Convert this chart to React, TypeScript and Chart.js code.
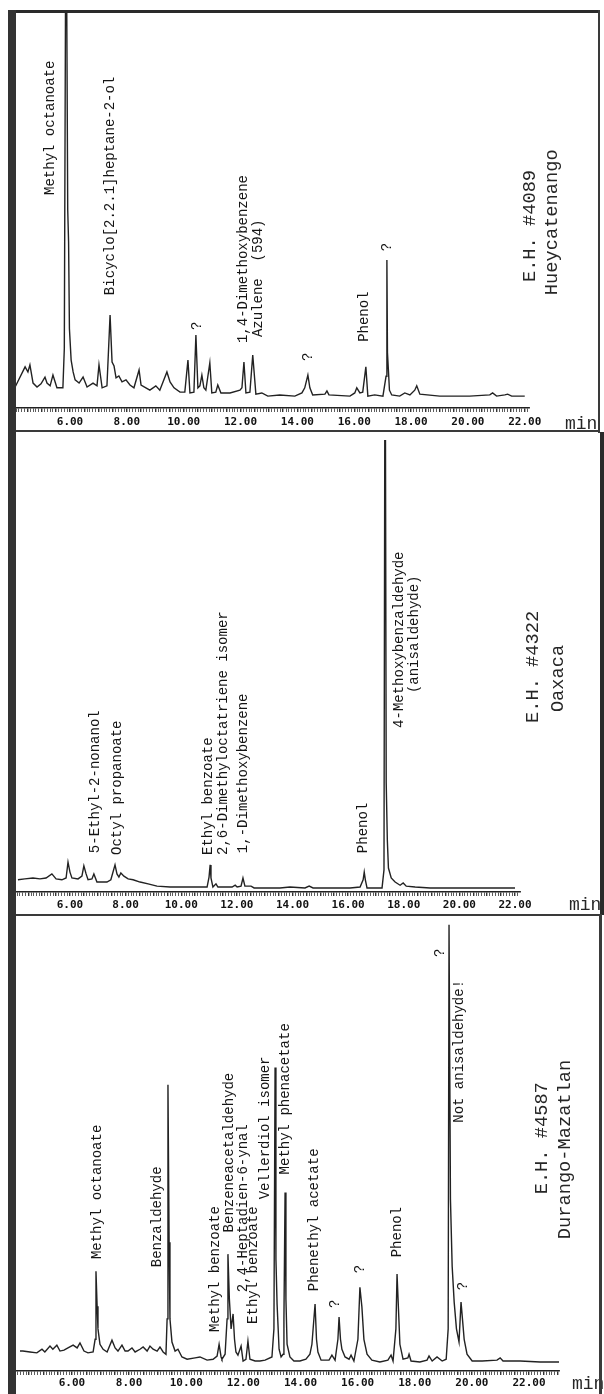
import React, { useEffect, useRef } from 'react';
import { Chart, registerables } from 'chart.js';

Chart.register(...registerables);

// ---------- Panel 1 : E.H. #4089 Hueycatenango ----------
const p1Time = [
  4.07, 4.42, 4.52, 4.59, 4.70, 4.84, 4.98, 5.12, 5.19, 5.30, 5.40, 5.54, 5.75, 5.80, 5.86, 5.92, 5.95, 5.98,
  6.04, 6.11, 6.18, 6.32, 6.46, 6.60, 6.81, 6.95, 7.02, 7.13, 7.30, 7.41, 7.48, 7.55, 7.62, 7.72, 7.83, 7.97,
  8.11, 8.25, 8.43, 8.50, 8.67, 8.81, 9.02, 9.16, 9.41, 9.52, 9.66, 9.87, 10.04, 10.15, 10.22, 10.36, 10.43,
  10.50, 10.57, 10.64, 10.71, 10.78, 10.92, 10.99, 11.13, 11.20, 11.31, 11.63, 11.98, 12.05, 12.12, 12.19,
  12.33, 12.43, 12.54, 12.75, 12.96, 13.38, 13.91, 14.16, 14.26, 14.37, 14.44, 14.54, 14.97, 15.04, 15.11,
  15.85, 16.02, 16.09, 16.20, 16.30, 16.41, 16.48, 16.72, 17.01, 17.12, 17.15, 17.17, 17.20, 17.24, 17.32,
  17.60, 17.78, 17.96, 18.13, 18.20, 18.31, 19.01, 20.06, 20.77, 20.87, 21.01, 21.30, 21.40, 21.54, 22.00,
];
const p1Signal = [
  5.3, 10.4, 9.1, 10.9, 6.3, 5.3, 6.1, 7.8, 6.3, 5.6, 8.3, 5.1, 5.1, 15, 140, 50, 42, 20,
  12.1, 9.1, 7.1, 6.3, 7.8, 5.3, 6.3, 5.6, 10.9, 5.1, 5.6, 23.5, 11.6, 10.6, 7.6, 8.1, 6.6, 7.1,
  5.8, 5.1, 9.6, 5.8, 5.1, 4.5, 5.6, 4.5, 9.1, 6.6, 5.1, 4.0, 4.0, 12.1, 3.8, 4.0, 18.4,
  5.1, 5.6, 8.3, 5.1, 4.5, 11.4, 3.8, 4.0, 5.8, 3.8, 3.8, 4.5, 5.1, 11.6, 3.8,
  4.0, 13.4, 3.5, 3.8, 3.0, 3.3, 3.0, 3.8, 5.1, 8.3, 5.1, 3.3, 3.5, 4.3, 3.3,
  3.0, 3.8, 5.1, 3.8, 4.0, 10.4, 3.0, 3.3, 3.0, 8, 37.4, 14, 10, 4.5, 3.3,
  3.0, 3.8, 3.3, 4.5, 5.6, 3.5, 3.0, 3.0, 3.3, 3.8, 3.0, 3.3, 3.5, 3.0, 3.0,
];
const p1Labels = [
  { text: 'Methyl octanoate', t: 5.30, v: 53.8 },
  { text: 'Bicyclo[2.2.1]heptane-2-ol', t: 7.41, v: 28.5 },
  { text: '?', t: 10.47, v: 19.7 },
  { text: '1,4-Dimethoxybenzene', t: 12.08, v: 16.4 },
  { text: 'Azulene  (594)', t: 12.61, v: 17.9 },
  { text: '?', t: 14.37, v: 11.9 },
  { text: 'Phenol', t: 16.37, v: 16.7 },
  { text: '?', t: 17.15, v: 39.6 },
];
const p1Titles = [
  { text: 'E.H. #4089', t: 22.17, v: 31.8 },
  { text: 'Hueycatenango', t: 22.95, v: 28.5 },
];

// ---------- Panel 2 : E.H. #4322 Oaxaca ----------
const p2Time = [
  4.13, 4.38, 4.67, 4.92, 5.14, 5.35, 5.50, 5.71, 5.86, 5.93, 6.00, 6.07, 6.29, 6.43, 6.50, 6.58, 6.65,
  6.79, 6.86, 6.97, 7.33, 7.47, 7.62, 7.69, 7.76, 7.83, 7.94, 8.09, 8.27, 8.52, 8.81, 9.13, 9.60, 10.32,
  10.93, 11.00, 11.04, 11.07, 11.14, 11.25, 11.32, 11.83, 11.94, 12.01, 12.15, 12.22, 12.29, 12.51, 12.62,
  13.55, 13.91, 14.45, 14.60, 14.74, 16.07, 16.43, 16.54, 16.58, 16.62, 16.68, 17.22, 17.29, 17.33, 17.37,
  17.41, 17.45, 17.55, 17.69, 17.87, 17.98, 18.09, 18.41, 18.95, 20.39, 21.11, 22.00,
];
const p2Signal = [
  2.7, 2.9, 3.1, 2.9, 3.1, 4.0, 2.9, 2.7, 3.1, 6.6, 4.4, 3.1, 2.9, 3.5, 5.8, 4.0, 2.7,
  2.9, 4.0, 2.2, 2.2, 2.7, 6.0, 4.0, 3.3, 4.2, 3.5, 2.9, 2.7, 2.2, 1.8, 1.3, 1.1, 1.1,
  1.1, 3.3, 6.0, 3.1, 1.1, 1.8, 1.1, 1.1, 1.5, 1.1, 1.3, 3.1, 1.3, 1.3, 0.9,
  0.9, 1.1, 0.9, 1.3, 0.9, 0.9, 1.1, 2.7, 4.4, 2.7, 0.9, 0.9, 4.9, 140, 24.1,
  11.5, 5.3, 3.1, 2.2, 1.5, 2.0, 1.3, 1.1, 0.9, 0.9, 0.9, 0.9,
];
const p2Labels = [
  { text: '5-Ethyl-2-nonanol', t: 6.90, v: 8.6 },
  { text: 'Octyl propanoate', t: 7.69, v: 8.2 },
  { text: 'Ethyl benzoate', t: 10.96, v: 8.2 },
  { text: '2,6-Dimethyloctatriene isomer', t: 11.50, v: 8.2 },
  { text: '1,-Dimethoxybenzene', t: 12.22, v: 8.6 },
  { text: 'Phenol', t: 16.54, v: 8.6 },
  { text: '4-Methoxybenzaldehyde', t: 17.83, v: 36.3 },
  { text: '(anisaldehyde)', t: 18.37, v: 44.0 },
];
const p2Titles = [
  { text: 'E.H. #4322', t: 22.65, v: 37.4 },
  { text: 'Oaxaca', t: 23.55, v: 39.8 },
];

// ---------- Panel 3 : E.H. #4587 Durango-Mazatlan ----------
const p3Time = [
  4.18, 4.28, 4.53, 4.77, 4.95, 5.05, 5.23, 5.33, 5.47, 5.58, 5.72, 5.86, 6.04, 6.18, 6.28, 6.42, 6.56,
  6.74, 6.81, 6.84, 6.88, 6.91, 6.98, 7.09, 7.23, 7.40, 7.51, 7.61, 7.75, 7.86, 7.96, 8.10, 8.21, 8.38,
  8.49, 8.63, 8.73, 8.84, 8.98, 9.08, 9.19, 9.29, 9.33, 9.36, 9.40, 9.43, 9.50, 9.61, 9.71, 9.85, 10.03,
  10.31, 10.48, 10.73, 10.94, 11.08, 11.15, 11.22, 11.25, 11.36, 11.43, 11.46, 11.51, 11.57, 11.64, 11.69,
  11.74, 11.81, 11.92, 11.99, 12.09, 12.16, 12.23, 12.41, 12.58, 12.76, 13.00, 13.07, 13.11, 13.14, 13.18,
  13.25, 13.32, 13.39, 13.42, 13.46, 13.49, 13.53, 13.63, 13.77, 13.98, 14.19, 14.33, 14.40, 14.51, 14.56,
  14.61, 14.72, 15.00, 15.10, 15.21, 15.31, 15.35, 15.40, 15.45, 15.56, 15.70, 15.77, 15.87, 16.01, 16.08,
  16.15, 16.22, 16.33, 16.50, 16.78, 17.06, 17.17, 17.24, 17.34, 17.38, 17.43, 17.48, 17.59, 17.76, 17.80,
  17.87, 18.18, 18.43, 18.50, 18.61, 18.78, 18.96, 19.10, 19.17, 19.20, 19.25, 19.31, 19.38, 19.46, 19.55,
  19.59, 19.62, 19.67, 19.73, 19.83, 20.01, 20.36, 20.88, 20.99, 21.09, 21.69, 22.39, 23.05,
];
const p3Signal = [
  4.4, 4.4, 4.2, 4.0, 4.8, 4.2, 5.5, 4.8, 5.7, 4.4, 4.6, 5.1, 5.7, 5.1, 6.2, 4.4, 4.0,
  4.2, 7.0, 22.0, 14.3, 9.3, 5.9, 4.8, 4.2, 6.8, 5.1, 4.4, 5.7, 4.4, 4.4, 5.1, 4.2, 4.8,
  5.3, 4.4, 5.5, 4.8, 4.4, 5.3, 4.2, 3.7, 11.5, 63.2, 28.4, 11.5, 6.4, 4.4, 4.8, 3.1, 2.6,
  2.9, 3.1, 2.4, 2.6, 3.3, 5.9, 3.1, 2.6, 3.7, 11.5, 25.8, 15.9, 9.3, 12.6, 7.0,
  4.2, 3.5, 5.5, 2.2, 2.6, 6.6, 2.6, 2.2, 2.2, 2.4, 3.1, 9.3, 67.0, 24.7, 14.8,
  4.8, 3.1, 3.7, 11.5, 39.4, 15.9, 5.9, 3.1, 2.2, 2.2, 2.6, 3.7, 5.9, 14.8, 7.0,
  4.2, 2.4, 2.4, 3.5, 2.4, 7.0, 11.9, 7.0, 4.8, 3.1, 2.6, 3.5, 2.2, 7.0, 18.5,
  14.1, 7.0, 3.7, 2.4, 2.0, 2.4, 3.5, 2.2, 9.3, 21.4, 13.7, 5.9, 2.6, 2.9, 3.7,
  2.2, 2.0, 2.4, 3.3, 2.2, 3.1, 2.2, 2.6, 9.3, 98.5, 37.9, 23.1, 15.2, 9.3, 6.4,
  11.5, 15.2, 11.5, 7.0, 3.7, 2.2, 2.2, 2.4, 2.9, 2.2, 2.2, 2.0, 2.0,
];
const p3Labels = [
  { text: 'Methyl octanoate', t: 6.88, v: 24.7 },
  { text: 'Benzaldehyde', t: 8.98, v: 22.9 },
  { text: 'Methyl benzoate', t: 11.01, v: 8.6 },
  { text: 'Benzeneacetaldehyde', t: 11.50, v: 30.6 },
  { text: '2,4-Heptadien-6-ynal', t: 11.99, v: 17.4 },
  { text: 'Ethyl benzoate', t: 12.34, v: 10.4 },
  { text: 'Vellerdiol isomer', t: 12.76, v: 37.9 },
  { text: 'Methyl phenacetate', t: 13.46, v: 43.4 },
  { text: 'Phenethyl acetate', t: 14.47, v: 17.6 },
  { text: '?', t: 15.21, v: 13.9 },
  { text: '?', t: 16.08, v: 21.6 },
  { text: 'Phenol', t: 17.38, v: 25.1 },
  { text: '?', t: 18.89, v: 91.4 },
  { text: 'Not anisaldehyde!', t: 19.55, v: 54.8 },
  { text: '?', t: 19.69, v: 17.8 },
];
const p3Titles = [
  { text: 'E.H. #4587', t: 22.46, v: 39.0 },
  { text: 'Durango-Mazatlan', t: 23.26, v: 29.1 },
];

const tickLabelValues = [6, 8, 10, 12, 14, 16, 18, 20, 22];

const INK = '#222222';

const panels = [
  {
    key: 'p1', top: 0, height: 435, padTop: 12, padRight: 75, axisH: 27, tickPad: 4,
    xMin: 4.1, xMax: 22.15, time: p1Time, signal: p1Signal, labels: p1Labels, titles: p1Titles,
    minDx: 36, minDy: 16,
  },
  {
    key: 'p2', top: 435, height: 480, padTop: 5, padRight: 84, axisH: 23, tickPad: 3,
    xMin: 4.06, xMax: 22.18, time: p2Time, signal: p2Signal, labels: p2Labels, titles: p2Titles,
    minDx: 49, minDy: 13,
  },
  {
    key: 'p3', top: 915, height: 479, padTop: 3, padRight: 45, axisH: 23, tickPad: 2,
    xMin: 4.04, xMax: 23.05, time: p3Time, signal: p3Signal, labels: p3Labels, titles: p3Titles,
    minDx: 13, minDy: 13,
  },
];

type PanelCfg = typeof panels[number];

function makeAnnotator(cfg: PanelCfg) {
  return {
    id: 'annotate_' + cfg.key,
    afterDatasetsDraw(chart: any) {
      const { ctx, chartArea } = chart;
      const x = chart.scales.x;
      const y = chart.scales.y;
      ctx.save();
      ctx.fillStyle = '#151515';
      ctx.textBaseline = 'middle';
      ctx.textAlign = 'left';
      const draw = (items: { text: string; t: number; v: number }[], font: string) => {
        ctx.font = font;
        items.forEach((l) => {
          const px = x.getPixelForValue(l.t);
          const py = y.getPixelForValue(l.v);
          ctx.save();
          ctx.translate(px, py);
          ctx.rotate(-Math.PI / 2);
          ctx.fillText(l.text, 0, 0);
          ctx.restore();
        });
      };
      draw(cfg.labels, '14px "Liberation Mono"');
      ctx.fillStyle = '#262626';
      draw(cfg.titles, '18.7px "Liberation Mono"');
      ctx.font = '18px "Liberation Mono"';
      ctx.fillText('min', chartArea.right + cfg.minDx, chartArea.bottom + cfg.minDy);
      ctx.restore();
    },
  };
}

function Panel({ cfg }: { cfg: PanelCfg }) {
  const ref = useRef<HTMLCanvasElement>(null);
  useEffect(() => {
    const canvas = ref.current;
    if (!canvas) return;
    const chart = new Chart(canvas, {
      type: 'line',
      data: {
        datasets: [
          {
            data: cfg.time.map((t, i) => ({ x: t, y: cfg.signal[i] })),
            borderColor: INK,
            borderWidth: 1.4,
            pointRadius: 0,
            tension: 0,
            fill: false,
          },
        ],
      },
      options: {
        animation: false,
        responsive: false,
        devicePixelRatio: 1,
        events: [],
        layout: { padding: { top: cfg.padTop, left: 16, right: cfg.padRight, bottom: 0 } },
        plugins: { legend: { display: false }, tooltip: { enabled: false }, title: { display: false } },
        scales: {
          x: {
            type: 'linear',
            position: 'bottom',
            min: cfg.xMin,
            max: cfg.xMax,
            afterFit: (scale: any) => {
              scale.height = cfg.axisH;
              scale.paddingLeft = 0;
              scale.paddingRight = 0;
            },
            border: { display: true, color: INK, width: 1.5 },
            grid: {
              display: true,
              drawOnChartArea: false,
              drawTicks: true,
              tickLength: 4,
              color: '#333',
              lineWidth: (c: any) => {
                const v = c.tick ? c.tick.value : 0;
                return Math.abs(v * 2 - Math.round(v * 2)) < 1e-6 ? 1.4 : 0.8;
              },
            },
            ticks: {
              stepSize: 0.1,
              includeBounds: false,
              autoSkip: false,
              maxRotation: 0,
              minRotation: 0,
              padding: cfg.tickPad,
              color: '#111',
              font: { family: '"DejaVu Sans Mono"', size: 11, weight: 'bold' },
              callback: (value: any) => {
                const n = Number(value);
                const r = Math.round(n);
                return Math.abs(n - r) < 1e-6 && tickLabelValues.includes(r) ? r.toFixed(2) : '';
              },
            },
          },
          y: { type: 'linear', display: false, min: 0, max: 100 },
        },
      },
      plugins: [makeAnnotator(cfg)],
    } as any);
    return () => chart.destroy();
  }, []);
  return (
    <canvas
      ref={ref}
      width={604}
      height={cfg.height}
      style={{ position: 'absolute', left: 0, top: cfg.top, width: 604, height: cfg.height }}
    />
  );
}

const frameStyle = (left: number, top: number, width: number, height: number, color: string) => ({
  position: 'absolute' as const, left, top, width, height, background: color,
});

export default function App() {
  return (
    <div style={{ position: 'absolute', left: 0, top: 0, width: 604, height: 1394, background: '#fff', overflow: 'hidden' }}>
      {panels.map((p) => (
        <Panel key={p.key} cfg={p} />
      ))}
      {/* frame */}
      <div style={frameStyle(8, 10, 592, 3, '#2a2a2a')} />
      <div style={frameStyle(8, 10, 8, 1384, '#333')} />
      <div style={frameStyle(598, 10, 2, 423, '#3a3a3a')} />
      <div style={frameStyle(16, 430, 584, 2, '#3a3a3a')} />
      <div style={frameStyle(600, 432, 4, 483, '#2a2a2a')} />
      <div style={frameStyle(16, 914, 586, 2, '#3a3a3a')} />
      <div style={frameStyle(599, 915, 3, 479, '#3a3a3a')} />
    </div>
  );
}
